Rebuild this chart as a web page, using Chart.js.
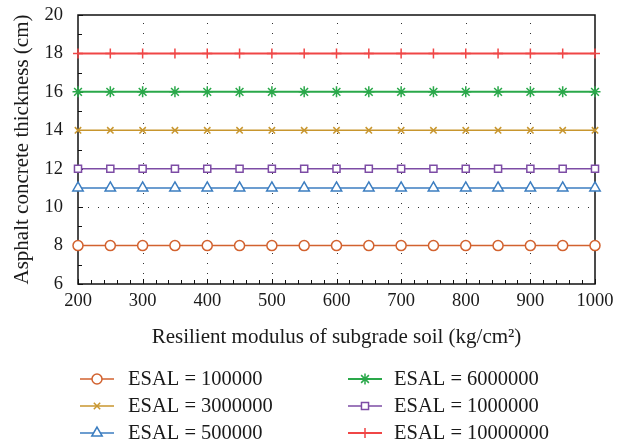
<!DOCTYPE html>
<html>
<head>
<meta charset="utf-8">
<script src="https://cdn.jsdelivr.net/npm/chart.js@4.4.1/dist/chart.umd.min.js"></script>
<style>
  html, body { margin: 0; padding: 0; background: #fff; }
  #wrap { width: 629px; height: 447px; }
</style>
</head>
<body>
<div id="wrap"><canvas id="thicknessChart" width="629" height="447"></canvas></div>
<script>
// resilient modulus (kg/cm2)
const modulus = [200, 250, 300, 350, 400, 450, 500, 550, 600, 650, 700, 750, 800, 850, 900, 950, 1000];

// asphalt concrete thickness (cm) for each ESAL
const esal100000   = [8, 8, 8, 8, 8, 8, 8, 8, 8, 8, 8, 8, 8, 8, 8, 8, 8];
const esal3000000  = [14, 14, 14, 14, 14, 14, 14, 14, 14, 14, 14, 14, 14, 14, 14, 14, 14];
const esal500000   = [11, 11, 11, 11, 11, 11, 11, 11, 11, 11, 11, 11, 11, 11, 11, 11, 11];
const esal6000000  = [16, 16, 16, 16, 16, 16, 16, 16, 16, 16, 16, 16, 16, 16, 16, 16, 16];
const esal1000000  = [12, 12, 12, 12, 12, 12, 12, 12, 12, 12, 12, 12, 12, 12, 12, 12, 12];
const esal10000000 = [18, 18, 18, 18, 18, 18, 18, 18, 18, 18, 18, 18, 18, 18, 18, 18, 18];

const yTicks = [6, 8, 10, 12, 14, 16, 18, 20];
const xTicks = [200, 300, 400, 500, 600, 700, 800, 900, 1000];

const serif = "'Liberation Serif', 'DejaVu Serif', serif";

function toPoints(values) {
    return values.map((v, i) => ({ x: modulus[i], y: v }));
}

function series(label, values, color, style, radius, width) {
    return {
        label: label,
        data: toPoints(values),
        borderColor: color,
        backgroundColor: '#fff',
        pointBorderColor: color,
        pointBackgroundColor: '#fff',
        pointStyle: style,
        pointRadius: radius,
        pointBorderWidth: 1.5,
        borderWidth: width,
        clip: false
    };
}

const datasets = [
    series('ESAL = 100000', esal100000, '#d2622f', 'circle', 5, 1.5),
    series('ESAL = 3000000', esal3000000, '#c8962e', 'crossRot', 4.5, 1.5),
    series('ESAL = 500000', esal500000, '#3b7dc0', 'triangle', 6, 1.5),
    series('ESAL = 6000000', esal6000000, '#2aa84a', 'star', 5.5, 2),
    series('ESAL = 1000000', esal1000000, '#7d4ca5', 'rect', 5, 1.5),
    series('ESAL = 10000000', esal10000000, '#f04646', 'cross', 5, 2)
];

// axes frame, dotted grid and inward tick marks
const framePlugin = {
    id: 'frame',
    beforeDatasetsDraw(chart) {
        const ctx = chart.ctx;
        const a = chart.chartArea;
        const xs = chart.scales.x;
        const ys = chart.scales.y;
        ctx.save();
        ctx.strokeStyle = '#333';
        ctx.lineWidth = 1;
        ctx.setLineDash([1, 9]);
        xTicks.forEach(v => {
            if (v === 200 || v === 1000) return;
            const px = Math.round(xs.getPixelForValue(v)) + 0.5;
            ctx.beginPath();
            ctx.moveTo(px, a.bottom);
            ctx.lineTo(px, a.top);
            ctx.stroke();
        });
        const py10 = Math.round(ys.getPixelForValue(10)) + 0.5;
        ctx.beginPath();
        ctx.moveTo(a.left, py10);
        ctx.lineTo(a.right, py10);
        ctx.stroke();
        ctx.setLineDash([]);

        ctx.strokeStyle = '#111';
        ctx.lineWidth = 1.5;
        ctx.strokeRect(a.left, a.top, a.right - a.left, a.bottom - a.top);

        ctx.lineWidth = 1;
        for (let v = 200; v <= 1000; v += 20) {
            const px = Math.round(xs.getPixelForValue(v)) + 0.5;
            const len = v % 100 === 0 ? 5 : 4;
            ctx.beginPath();
            ctx.moveTo(px, a.bottom);
            ctx.lineTo(px, a.bottom - len);
            ctx.stroke();
        }
        for (let v = 6; v <= 20; v += 1) {
            const py = Math.round(ys.getPixelForValue(v)) + 0.5;
            const len = v % 2 === 0 ? 5 : 4;
            ctx.beginPath();
            ctx.moveTo(a.left, py);
            ctx.lineTo(a.left + len, py);
            ctx.stroke();
        }
        ctx.restore();
    }
};

// two-column legend below the plot
const legendPlugin = {
    id: 'twoColLegend',
    afterDraw(chart) {
        const ctx = chart.ctx;
        const cols = [
            { line: 80, text: 128 },
            { line: 348, text: 394 }
        ];
        const rows = [379, 406, 433];
        ctx.save();
        chart.data.datasets.forEach((ds, i) => {
            const col = cols[Math.floor(i / 3)];
            const y = rows[i % 3];
            ctx.strokeStyle = ds.borderColor;
            ctx.lineWidth = ds.borderWidth;
            ctx.beginPath();
            ctx.moveTo(col.line, y);
            ctx.lineTo(col.line + 34, y);
            ctx.stroke();
            ctx.fillStyle = '#fff';
            ctx.lineWidth = 1.5;
            Chart.helpers.drawPoint(ctx, {
                pointStyle: ds.pointStyle,
                radius: ds.pointRadius,
                borderWidth: 1.5,
                rotation: 0
            }, col.line + 17, y);
            ctx.fillStyle = '#1a1a1a';
            ctx.font = '20.5px ' + serif;
            ctx.textBaseline = 'middle';
            ctx.textAlign = 'left';
            ctx.fillText(ds.label, col.text, y + 1);
        });
        ctx.restore();
    }
};

new Chart(document.getElementById('thicknessChart'), {
    type: 'line',
    data: { datasets: datasets },
    plugins: [framePlugin, legendPlugin],
    options: {
        responsive: false,
        animation: false,
        layout: { padding: { left: 0, right: 34, top: 15, bottom: 93 } },
        plugins: {
            legend: { display: false },
            tooltip: { enabled: false }
        },
        scales: {
            x: {
                type: 'linear',
                min: 200,
                max: 1000,
                afterBuildTicks: (scale) => { scale.ticks = xTicks.map(v => ({ value: v })); },
                afterFit: (scale) => { scale.height = 70; },
                grid: { display: false, drawTicks: false },
                border: { display: false },
                ticks: {
                    padding: 6,
                    maxRotation: 0,
                    autoSkip: false,
                    color: '#1a1a1a',
                    font: { family: serif, size: 18.5 },
                    callback: (v) => String(v)
                },
                title: {
                    display: true,
                    text: 'Resilient modulus of subgrade soil (kg/cm²)',
                    color: '#1a1a1a',
                    font: { family: serif, size: 21 },
                    padding: { top: 0, bottom: 4 }
                }
            },
            y: {
                min: 6,
                max: 20,
                afterBuildTicks: (scale) => { scale.ticks = yTicks.map(v => ({ value: v })); },
                afterFit: (scale) => {
                    scale.width = 78;
                    scale.paddingTop = 0;
                    scale.paddingBottom = 0;
                },
                grid: { display: false, drawTicks: false },
                border: { display: false },
                ticks: {
                    padding: 15,
                    color: '#1a1a1a',
                    font: { family: serif, size: 18.5 }
                },
                title: {
                    display: true,
                    text: 'Asphalt concrete thickness (cm)',
                    color: '#1a1a1a',
                    font: { family: serif, size: 21 },
                    padding: { top: 10, bottom: 0 }
                }
            }
        }
    }
});
</script>
</body>
</html>
